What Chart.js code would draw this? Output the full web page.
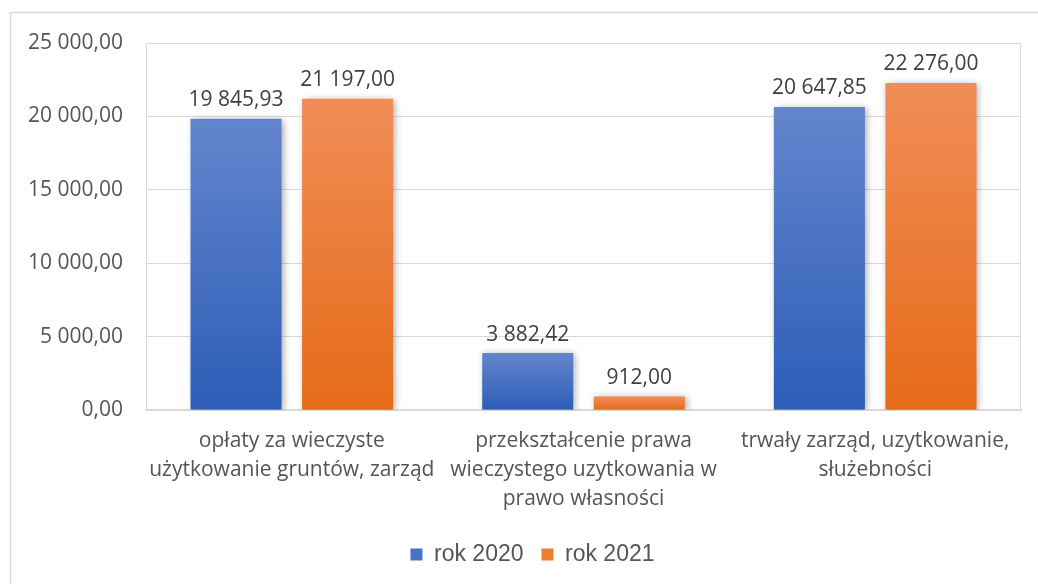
<!DOCTYPE html>
<html>
<head>
<meta charset="utf-8">
<script src="https://cdn.jsdelivr.net/npm/chart.js@4/dist/chart.umd.min.js"></script>
<style>
html,body{margin:0;padding:0;background:#ffffff;}
#wrap{width:1038px;height:584px;position:relative;}
</style>
</head>
<body>
<div id="wrap"><canvas id="c" width="1038" height="584"></canvas></div>
<script>
// ---- data ----
const categories = [
  ["opłaty za wieczyste", "użytkowanie gruntów, zarząd"],
  ["przekształcenie prawa", "wieczystego uzytkowania w", "prawo własności"],
  ["trwały zarząd, uzytkowanie,", "służebności"]
];
const seriesNames = ["rok 2020", "rok 2021"];
const values2020 = [19845.93, 3882.42, 20647.85];
const values2021 = [21197.00, 912.00, 22276.00];
const yTicks = [0, 5000, 10000, 15000, 20000, 25000];

// ---- styling ----
const gradTop = ["#6485cd", "#f18d57"];
const gradBottom = ["#2c5db7", "#e56b18"];
const legendColors = ["#4472c4", "#ed7d31"];
const FONT = "'Open Sans', 'Noto Sans', sans-serif";

function fmt(v) {
  const parts = Math.abs(v).toFixed(2).split(".");
  const intPart = parts[0].replace(/\B(?=(\d{3})+(?!\d))/g, " ");
  return (v < 0 ? "-" : "") + intPart + "," + parts[1];
}

function gradientFor(si) {
  return function (c) {
    const chart = c.chart;
    if (!chart.chartArea || c.type !== "data" || !chart.scales.y) return legendColors[si];
    const ys = chart.scales.y;
    const v = c.parsed ? c.parsed.y : c.raw;
    const top = ys.getPixelForValue(v);
    const bottom = ys.getPixelForValue(0);
    const g = chart.ctx.createLinearGradient(0, top, 0, bottom);
    g.addColorStop(0, gradTop[si]);
    g.addColorStop(1, gradBottom[si]);
    return g;
  };
}

const outerBorder = {
  id: "outerBorder",
  afterLayout(chart) {
    if (chart.legend) {
      chart.legend.left += 17;
      chart.legend.right += 17;
    }
  },
  beforeDraw(chart) {
    const ctx = chart.ctx;
    ctx.save();
    ctx.strokeStyle = "#d9d9d9";
    ctx.lineWidth = 1.5;
    ctx.beginPath();
    ctx.moveTo(10.5, chart.height);
    ctx.lineTo(10.5, 12.5);
    ctx.lineTo(chart.width, 12.5);
    ctx.stroke();
    ctx.restore();
  }
};

const plotBorder = {
  id: "plotBorder",
  beforeDatasetsDraw(chart) {
    const ctx = chart.ctx;
    const a = chart.chartArea;
    ctx.save();
    ctx.strokeStyle = "#d9d9d9";
    ctx.lineWidth = 1;
    ctx.beginPath();
    ctx.moveTo(Math.round(a.left) + 0.5, a.top);
    ctx.lineTo(Math.round(a.left) + 0.5, a.bottom);
    ctx.moveTo(Math.round(a.right) - 0.5, a.top);
    ctx.lineTo(Math.round(a.right) - 0.5, a.bottom);
    ctx.stroke();
    ctx.restore();
    // shadow for bars
    ctx.save();
    ctx.shadowColor = "rgba(0,0,0,0.35)";
    ctx.shadowBlur = 7;
    ctx.shadowOffsetX = 2;
    ctx.shadowOffsetY = 1;
  },
  afterDatasetsDraw(chart) {
    const ctx = chart.ctx;
    ctx.restore();
    ctx.save();
    ctx.font = "21px " + FONT;
    ctx.fillStyle = "#404040";
    ctx.textAlign = "center";
    ctx.textBaseline = "alphabetic";
    chart.data.datasets.forEach((ds, di) => {
      const meta = chart.getDatasetMeta(di);
      meta.data.forEach((bar, i) => {
        ctx.fillText(fmt(ds.data[i]), bar.x, bar.y - 12.5);
      });
    });
    ctx.restore();
  }
};

new Chart(document.getElementById("c"), {
  type: "bar",
  data: {
    labels: categories,
    datasets: [
      { label: seriesNames[0], data: values2020, backgroundColor: gradientFor(0), borderWidth: 0 },
      { label: seriesNames[1], data: values2021, backgroundColor: gradientFor(1), borderWidth: 0 }
    ]
  },
  options: {
    responsive: false,
    animation: false,
    devicePixelRatio: 1,
    categoryPercentage: 0.765,
    barPercentage: 0.816,
    layout: { padding: { left: 10, right: 17, top: 43, bottom: 8 } },
    plugins: {
      tooltip: { enabled: false },
      legend: {
        position: "bottom",
        labels: {
          boxWidth: 12,
          boxHeight: 12,
          padding: 18,
          color: "#555555",
          font: { family: "'Liberation Sans', Arial, sans-serif", size: 23 },
          generateLabels() {
            return seriesNames.map((n, i) => ({
              text: n, fillStyle: legendColors[i], strokeStyle: legendColors[i],
              lineWidth: 0, hidden: false, datasetIndex: i, fontColor: "#555555"
            }));
          }
        }
      }
    },
    scales: {
      x: {
        grid: { display: false, drawTicks: false },
        border: { display: true, color: "#d9d9d9", width: 2 },
        ticks: {
          color: "#555555",
          padding: 16,
          maxRotation: 0,
          autoSkip: false,
          font: { family: FONT, size: 21, lineHeight: 1.4 }
        },
        afterFit(s) { s.height = 115; }
      },
      y: {
        min: 0,
        max: 25000,
        grid: { color: "#d9d9d9", lineWidth: 1, drawTicks: false },
        border: { display: false },
        ticks: {
          color: "#555555",
          padding: 23,
          font: { family: FONT, size: 21 },
          callback: (v) => fmt(v)
        },
        afterBuildTicks(s) { s.ticks = yTicks.map(v => ({ value: v })); },
        afterFit(s) { s.width = 136; }
      }
    }
  },
  plugins: [outerBorder, plotBorder]
});
</script>
</body>
</html>
